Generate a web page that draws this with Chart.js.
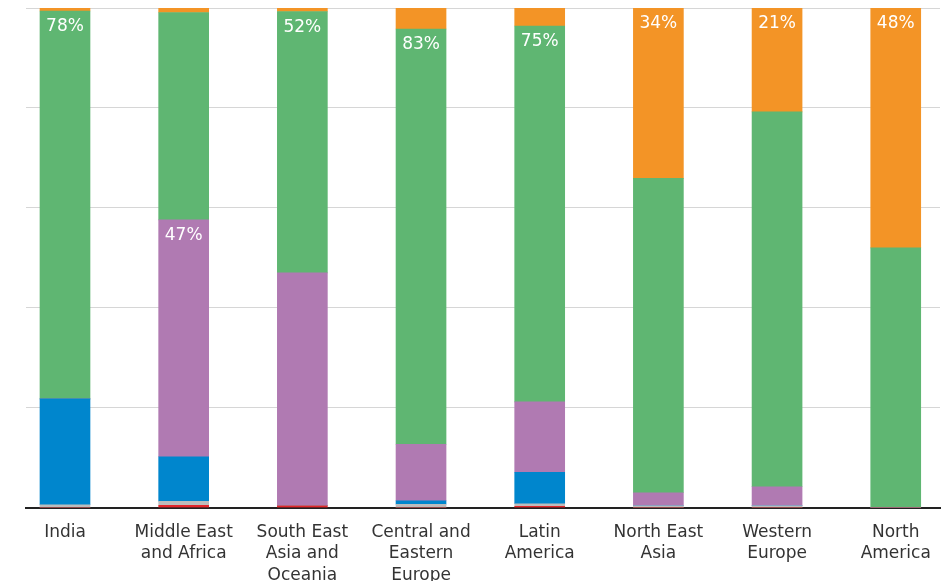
<!DOCTYPE html>
<html lang="en">
<head>
  <meta charset="UTF-8">
  <title>Regional mix</title>
  <script src="https://cdn.jsdelivr.net/npm/chart.js@4.4.1/dist/chart.umd.min.js"></script>
  <style>
    html, body {
      margin: 0;
      padding: 0;
      background: #fff;
      overflow: hidden;
    }
    #wrap {
      position: relative;
      width: 948px;
      height: 592px;
    }
  </style>
</head>
<body>
  <div id="wrap"><canvas id="mixChart"></canvas></div>

  <script>
    // categories (multi-line tick labels)
    const categories = [
      ['India'],
      ['Middle East', 'and Africa'],
      ['South East', 'Asia and', 'Oceania'],
      ['Central and', 'Eastern', 'Europe'],
      ['Latin', 'America'],
      ['North East', 'Asia'],
      ['Western', 'Europe'],
      ['North', 'America']
    ];

    // shares in %, stacked bottom -> top
    const redShare    = [0,    0.5,  0.4,  0,    0.3,  0,    0,    0];
    const grayShare   = [0.6,  0.8,  0,    0.7,  0.5,  0.4,  0.4,  0];
    const blueShare   = [21.2, 8.9,  0,    0.7,  6.3,  0,    0,    0];
    const purpleShare = [0,    47.4, 46.6, 11.3, 14.1, 2.6,  3.8,  0];
    const greenShare  = [77.6, 41.5, 52.3, 83.1, 75.2, 62.9, 75.0, 52.0];
    const orangeShare = [0.6,  0.9,  0.7,  4.2,  3.6,  34.1, 20.8, 48.0];

    // which segment carries the white % label in each bar
    const labelledSeries = ['green', 'purple', 'green', 'green', 'green', 'orange', 'orange', 'orange'];

    const yTicks = [0, 20, 40, 60, 80, 100];

    const series = [
      { key: 'red',    values: redShare,    color: '#e3262b' },
      { key: 'gray',   values: grayShare,   color: '#bdbdbd' },
      { key: 'blue',   values: blueShare,   color: '#0086cd' },
      { key: 'purple', values: purpleShare, color: '#b07ab2' },
      { key: 'green',  values: greenShare,  color: '#5fb672' },
      { key: 'orange', values: orangeShare, color: '#f39426' }
    ];

    // draws the white percentage near the top of the chosen segment
    const segmentLabels = {
      id: 'segmentLabels',
      afterDatasetsDraw(chart) {
        const ctx = chart.ctx;
        ctx.save();
        ctx.fillStyle = '#ffffff';
        ctx.font = '17px "DejaVu Sans", sans-serif';
        ctx.textAlign = 'center';
        ctx.textBaseline = 'middle';
        labelledSeries.forEach((key, i) => {
          const dsIndex = series.findIndex(s => s.key === key);
          const bar = chart.getDatasetMeta(dsIndex).data[i];
          const value = series[dsIndex].values[i];
          ctx.fillText(Math.round(value) + '%', bar.x, bar.y + 16);
        });
        ctx.restore();
      }
    };

    Chart.defaults.font.family = '"DejaVu Sans", sans-serif';
    Chart.defaults.color = '#333';

    const ctx = document.getElementById('mixChart').getContext('2d');
    new Chart(ctx, {
      type: 'bar',
      data: {
        datasets: series.map(s => ({
          label: s.key,
          data: s.values.map((v, i) => ({ x: i, y: v })),
          backgroundColor: s.color,
          borderWidth: 0,
          barThickness: 50
        }))
      },
      options: {
        responsive: true,
        maintainAspectRatio: false,
        animation: false,
        layout: { padding: { top: 8, left: 26, right: 8, bottom: 0 } },
        plugins: {
          legend: { display: false },
          tooltip: { enabled: false }
        },
        scales: {
          x: {
            type: 'linear',
            stacked: true,
            offset: false,
            min: -0.3286,
            max: 7.373,
            afterBuildTicks: (axis) => {
              axis.ticks = categories.map((c, i) => ({ value: i }));
            },
            grid: { display: false, offset: false },
            border: { display: true, color: '#222', width: 2 },
            ticks: {
              autoSkip: false,
              maxRotation: 0,
              padding: 6,
              font: { size: 17, lineHeight: 1.26 },
              color: '#333',
              callback: (v) => categories[v]
            }
          },
          y: {
            stacked: true,
            min: 0,
            max: 100,
            afterBuildTicks: (axis) => {
              axis.ticks = yTicks.map(v => ({ value: v }));
            },
            grid: { color: '#d6d6d6', lineWidth: 1, drawTicks: false },
            border: { display: false },
            ticks: { display: false }
          }
        }
      },
      plugins: [segmentLabels]
    });
  </script>
</body>
</html>
